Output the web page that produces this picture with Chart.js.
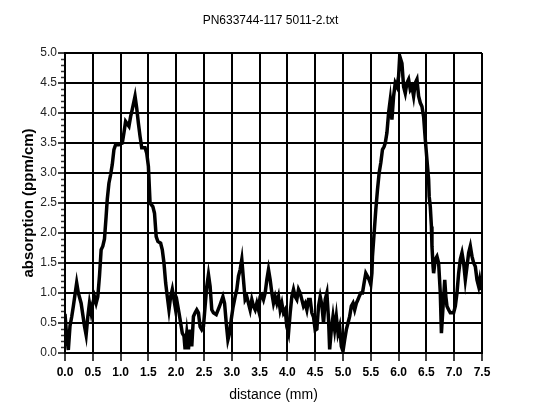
<!DOCTYPE html>
<html>
<head>
<meta charset="utf-8">
<script src="https://cdn.jsdelivr.net/npm/chart.js@4.4.1/dist/chart.umd.min.js"></script>
<style>
  html, body { margin: 0; padding: 0; background: #ffffff; }
  #wrap { width: 550px; height: 419px; }
</style>
</head>
<body>
<div id="wrap"><canvas id="c" width="550" height="419"></canvas></div>
<script>
const chartTitle = "PN633744-117 5011-2.txt";
const xTitle = "distance (mm)";
const yTitle = "absorption (ppm/cm)";

const distance = [
  0.00,0.03,0.06,0.09,0.12,0.15,0.21,0.24,0.29,0.35,0.38,0.41,0.44,0.47,0.50,0.53,0.56,0.59,0.62,0.65,
  0.68,0.71,0.74,0.76,0.79,0.82,0.85,0.88,0.91,0.97,1.03,1.06,1.09,1.15,1.18,1.21,1.26,1.29,1.32,1.35,
  1.38,1.44,1.47,1.50,1.53,1.58,1.61,1.64,1.67,1.72,1.75,1.78,1.81,1.84,1.87,1.90,1.93,1.96,1.99,2.02,
  2.05,2.08,2.11,2.14,2.16,2.19,2.22,2.25,2.28,2.31,2.34,2.37,2.40,2.43,2.46,2.49,2.52,2.55,2.58,2.61,
  2.64,2.67,2.72,2.78,2.84,2.87,2.90,2.93,2.96,2.99,3.02,3.06,3.09,3.12,3.15,3.18,3.21,3.24,3.27,3.30,
  3.33,3.36,3.39,3.42,3.45,3.48,3.51,3.54,3.57,3.60,3.63,3.66,3.69,3.72,3.75,3.78,3.81,3.84,3.87,3.90,
  3.93,3.96,3.99,4.02,4.05,4.08,4.11,4.14,4.17,4.20,4.23,4.26,4.29,4.32,4.35,4.38,4.41,4.44,4.47,4.50,
  4.53,4.56,4.59,4.62,4.65,4.68,4.71,4.74,4.76,4.79,4.82,4.85,4.88,4.91,4.94,4.97,5.00,5.03,5.06,5.09,
  5.12,5.15,5.18,5.21,5.24,5.27,5.29,5.32,5.35,5.38,5.41,5.44,5.47,5.50,5.52,5.53,5.56,5.59,5.62,5.65,
  5.68,5.71,5.74,5.76,5.79,5.82,5.85,5.88,5.91,5.94,5.97,6.00,6.02,6.06,6.09,6.12,6.15,6.18,6.21,6.24,
  6.27,6.30,6.33,6.36,6.39,6.42,6.45,6.48,6.51,6.54,6.55,6.57,6.59,6.60,6.62,6.63,6.66,6.69,6.72,6.75,
  6.77,6.80,6.83,6.85,6.87,6.90,6.93,6.96,6.99,7.02,7.05,7.08,7.11,7.14,7.17,7.20,7.23,7.26,7.29,7.32,
  7.35,7.38,7.41,7.44,7.46,7.49
];
const absorption = [
  0.65,0.28,0.05,0.45,0.60,0.78,1.17,1.00,0.83,0.45,0.30,0.60,0.83,0.67,0.83,0.94,0.83,0.94,1.28,1.72,
  1.78,1.90,2.28,2.56,2.83,2.97,3.14,3.39,3.47,3.47,3.50,3.67,3.86,3.78,3.94,4.06,4.28,4.08,3.83,3.61,
  3.42,3.42,3.33,3.11,2.50,2.44,2.33,1.94,1.86,1.83,1.72,1.50,1.17,0.94,0.72,0.94,1.06,0.89,0.72,0.83,
  0.67,0.50,0.33,0.28,0.06,0.33,0.06,0.39,0.11,0.61,0.67,0.72,0.67,0.44,0.39,0.44,0.78,1.11,1.31,1.11,
  0.72,0.67,0.64,0.78,0.94,0.83,0.50,0.22,0.33,0.56,0.75,0.94,1.06,1.28,1.39,1.56,1.22,0.89,0.94,0.83,
  0.72,0.89,0.78,0.72,0.83,0.72,0.94,0.97,0.89,1.00,1.22,1.39,1.22,1.00,0.83,0.94,0.83,0.94,0.72,0.83,
  0.67,0.72,0.44,0.33,0.67,0.94,1.06,0.94,0.89,1.06,1.00,0.89,0.78,0.83,0.72,0.89,0.89,0.67,0.60,0.38,
  0.40,0.78,0.94,0.80,0.50,0.89,1.00,0.56,0.06,0.39,0.61,0.39,0.61,0.33,0.44,0.11,0.03,0.22,0.39,0.50,
  0.61,0.78,0.83,0.72,0.83,0.89,0.94,1.00,1.00,1.17,1.33,1.28,1.22,1.14,1.33,1.61,2.00,2.39,2.72,3.00,
  3.17,3.39,3.44,3.50,3.67,4.00,4.22,3.89,4.28,4.50,4.44,4.61,4.95,4.83,4.44,4.33,4.50,4.56,4.39,4.44,
  4.28,4.50,4.56,4.28,4.17,4.11,3.94,3.56,3.22,2.89,2.61,2.44,2.11,1.78,1.44,1.33,1.56,1.61,1.50,1.00,
  0.33,0.78,1.22,0.94,0.78,0.72,0.67,0.67,0.67,0.78,1.00,1.33,1.56,1.67,1.50,1.22,1.44,1.67,1.78,1.61,
  1.50,1.44,1.22,1.11,1.22,1.05
];
const xTicks = [0.0,0.5,1.0,1.5,2.0,2.5,3.0,3.5,4.0,4.5,5.0,5.5,6.0,6.5,7.0,7.5];
const yTicks = [0.0,0.5,1.0,1.5,2.0,2.5,3.0,3.5,4.0,4.5,5.0];
const yMinorStep = 0.1;

const points = distance.map((x, i) => ({ x: x, y: absorption[i] }));

const extras = {
  id: 'extras',
  afterDraw(chart) {
    const y = chart.scales.y;
    const ctx = chart.ctx;
    const ca = chart.chartArea;
    ctx.save();
    ctx.strokeStyle = '#333';
    ctx.lineWidth = 1.5;
    const n = Math.round((y.max - y.min) / yMinorStep);
    for (let i = 0; i <= n; i++) {
      if (i % 5 === 0) continue;
      const py = Math.round(y.getPixelForValue(y.min + i * yMinorStep)) + 0.5;
      ctx.beginPath();
      ctx.moveTo(ca.left - 4, py);
      ctx.lineTo(ca.left - 1, py);
      ctx.stroke();
    }
    // chart title, centred over the plot area
    ctx.fillStyle = '#000';
    ctx.font = "12px 'Liberation Sans', sans-serif";
    ctx.textAlign = 'center';
    ctx.textBaseline = 'middle';
    ctx.fillText(chartTitle, (ca.left + ca.right) / 2 - 3, 21);
    ctx.restore();
  }
};

new Chart(document.getElementById('c'), {
  type: 'scatter',
  data: {
    datasets: [{
      data: points,
      showLine: true,
      borderColor: '#000000',
      borderWidth: 3.5,
      pointRadius: 0,
      tension: 0,
      fill: false
    }]
  },
  options: {
    responsive: false,
    animation: false,
    layout: { padding: { left: 0, right: 68, top: 53, bottom: 0 } },
    plugins: {
      legend: { display: false },
      tooltip: { enabled: false },
      title: { display: false }
    },
    scales: {
      x: {
        type: 'linear',
        min: 0, max: 7.5,
        afterBuildTicks(scale) { scale.ticks = xTicks.map(v => ({ value: v })); },
        afterFit(scale) { scale.height = 66; },
        ticks: {
          callback: v => Number(v).toFixed(1),
          color: '#000',
          font: { family: "'Liberation Sans', sans-serif", size: 12, weight: 'bold' },
          padding: 4,
          maxRotation: 0,
          autoSkip: false
        },
        grid: { color: '#000', lineWidth: 2, tickLength: 8, tickColor: '#000', tickWidth: 1.5 },
        border: { display: true, color: '#000', width: 2 },
        title: {
          display: true,
          text: xTitle,
          color: '#000',
          font: { family: "'Liberation Sans', sans-serif", size: 14, weight: 'normal' },
          padding: { top: 4, bottom: 15 }
        }
      },
      y: {
        type: 'linear',
        min: 0, max: 5,
        afterBuildTicks(scale) { scale.ticks = yTicks.map(v => ({ value: v })); },
        afterFit(scale) { scale.width = 65; },
        ticks: {
          callback: v => Number(v).toFixed(1),
          color: '#222',
          font: { family: "'Liberation Sans', sans-serif", size: 12, weight: 'normal' },
          padding: 1,
          autoSkip: false
        },
        grid: { color: '#000', lineWidth: 2, tickLength: 7, tickColor: '#000', tickWidth: 1.5 },
        border: { display: true, color: '#000', width: 2 },
        title: {
          display: true,
          text: yTitle,
          color: '#000',
          font: { family: "'Liberation Sans', sans-serif", size: 15, weight: 'bold' },
          padding: { top: 20, bottom: 0 }
        }
      }
    }
  },
  plugins: [extras]
});
</script>
</body>
</html>
